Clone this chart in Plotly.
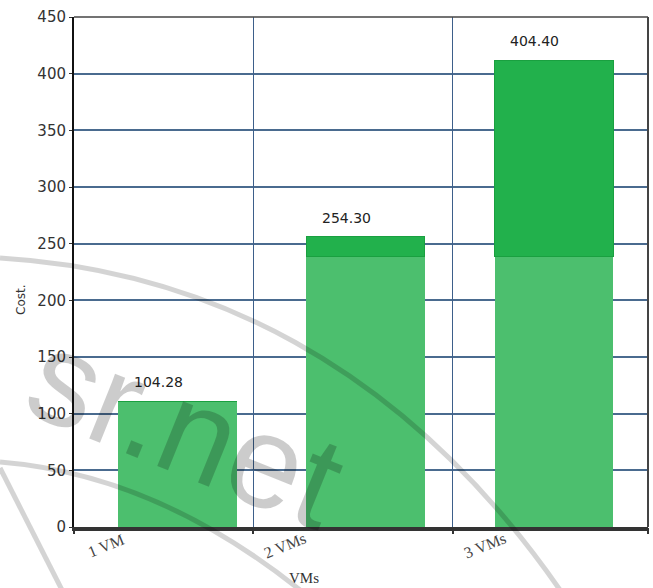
import plotly.graph_objects as go

# ---- data ----
categories = ["1 VM", "2 VMs", "3 VMs"]
base_part = [111, 239, 239]      # lighter green segment
top_part = [0, 17, 173]          # darker green segment
value_labels = ["104.28", "254.30", "404.40"]
tick_labels = ["1 VM", "2 VMs", "3 VMs"]
tick_positions = [0.0, 0.312, 0.660, 1.0]   # divider ticks on the x axis (fraction of width)
y_ticks = [0, 50, 100, 150, 200, 250, 300, 350, 400, 450]

W, H = 653, 588
L, R, T, B = 74, 5, 17, 61
PW, PH = W - L - R, H - T - B

def px(x, y):
    return (x - L) / PW, (H - B - y) / PH

fig = go.Figure()
fig.add_trace(go.Bar(x=categories, y=base_part, marker=dict(color="#4CBF6E", line=dict(width=0)),
                     hoverinfo="skip", showlegend=False))
fig.add_trace(go.Bar(x=categories, y=top_part, marker=dict(color="#22B14C", line=dict(color="#1AA040", width=1)),
                     hoverinfo="skip", showlegend=False))
fig.add_trace(go.Scatter(x=[0, 1], y=[0, 0], xaxis="x2", mode="markers", marker=dict(opacity=0),
                         hoverinfo="skip", showlegend=False))

totals = [a + b for a, b in zip(base_part, top_part)]
ann = []
for c, t, lab in zip(categories, totals, value_labels):
    ann.append(dict(x=c, y=t, xref="x", yref="y", text=lab, showarrow=False, xanchor="center",
                    yanchor="bottom", xshift=-19, yshift=9,
                    font=dict(family="DejaVu Sans", size=14, color="#222")))
for pos, lab in zip(tick_positions, tick_labels):
    ann.append(dict(x=pos, y=0, xref="x2", yref="paper", text=lab, showarrow=False, xanchor="center",
                    yanchor="middle", xshift=32, yshift=-18, textangle=-22,
                    font=dict(family="Liberation Serif", size=16, color="#444")))
ann.append(dict(x=0, y=px(0, 300)[1], xref="paper", yref="paper", text="Cost.", showarrow=False,
                xanchor="center", yanchor="middle", xshift=21 - L, textangle=-90,
                font=dict(family="DejaVu Sans", size=12, color="#333")))
ann.append(dict(x=px(304, 0)[0], y=0, xref="paper", yref="paper", text="VMs", showarrow=False,
                xanchor="center", yanchor="middle", yshift=-51,
                font=dict(family="Liberation Serif", size=15, color="#333")))
# watermark
wx, wy = px(186, 428)
ann.append(dict(x=wx, y=wy, xref="paper", yref="paper", text="sr.net", showarrow=False,
                xanchor="center", yanchor="middle", textangle=22,
                font=dict(family="Liberation Sans", size=132, color="rgba(0,0,0,0.2)")))

def path(points, cmd):
    out = []
    for c, pts in zip(cmd, points):
        out.append(c + " " + " ".join("%.4f,%.4f" % px(*p) for p in pts))
    return " ".join(out)

wm = "rgba(0,0,0,0.17)"
shapes = [
    dict(type="path", xref="paper", yref="paper", layer="above",
         path=path([[(0, 258)], [(200, 270), (400, 360), (560, 590)]], ["M", "C"]),
         line=dict(color=wm, width=5)),
    dict(type="path", xref="paper", yref="paper", layer="above",
         path=path([[(0, 462)], [(100, 470), (200, 510), (300, 590)]], ["M", "C"]),
         line=dict(color=wm, width=5)),
    dict(type="path", xref="paper", yref="paper", layer="above",
         path=path([[(0, 468)], [(62, 590)]], ["M", "L"]),
         line=dict(color=wm, width=5)),
    dict(type="line", xref="paper", yref="paper", x0=0, x1=1, y0=1, y1=1, line=dict(color="#444", width=1.5)),
    dict(type="line", xref="paper", yref="paper", x0=1, x1=1, y0=0, y1=1, line=dict(color="#444", width=2)),
]

fig.update_layout(
    width=W, height=H, margin=dict(l=L, r=R, t=T, b=B, pad=0),
    paper_bgcolor="white", plot_bgcolor="white",
    barmode="stack", bargap=0.37,
    xaxis=dict(type="category", range=[-0.55, 2.5], showticklabels=False, showgrid=False,
               showline=True, linecolor="#333", linewidth=3.5, ticks="", zeroline=False),
    xaxis2=dict(overlaying="x", anchor="y", side="bottom", range=[0, 1], tickvals=tick_positions,
                showticklabels=False, ticks="outside", ticklen=6, tickcolor="#333", tickwidth=1.5,
                showgrid=True, gridcolor="#3D5F8A", gridwidth=1, zeroline=False, showline=False),
    yaxis=dict(range=[0, 450], tickvals=y_ticks, showgrid=True, gridcolor="#4A6B8F", gridwidth=1.6,
               showline=True, linecolor="#111", linewidth=2, ticks="outside", ticklen=3,
               tickcolor="#333", zeroline=False,
               tickfont=dict(family="DejaVu Sans", size=15, color="#333")),
    annotations=ann, shapes=shapes,
)

fig.write_html("out.html")
